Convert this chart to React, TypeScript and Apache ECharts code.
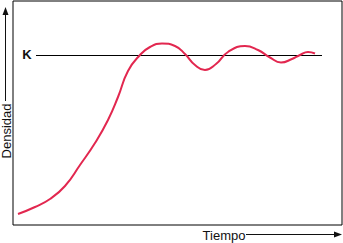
import React, { useEffect, useRef } from "react";
import * as echarts from "echarts";

// Logistic growth with oscillations around the carrying capacity K
const tiempo = [5, 22, 37, 52, 67, 82, 95, 105, 115, 127, 137, 149, 162, 172, 182, 192, 203, 215, 232, 245, 257, 268, 279, 287, 295, 302];
const densidad = [11, 18, 26, 39, 60, 82, 105, 128, 154, 170, 178, 181.5, 179, 171, 160, 155, 161, 173, 179, 175, 167.5, 162.5, 166, 170, 173, 171.5];
const capacidadK = 169.5;
const kInicio = 23;
const kFin = 309;

const FONT = "'Liberation Sans Narrow', 'Liberation Sans', Arial, sans-serif";

export default function App() {
  const ref = useRef<HTMLDivElement>(null);
  useEffect(() => {
    const chart = echarts.init(ref.current!, null, { renderer: "svg" });
    const curve = tiempo.map((t, i) => [t, densidad[i]]);
    chart.setOption({
      animation: false,
      grid: {
        left: 13,
        top: 1,
        width: 329,
        height: 224,
        show: true,
        borderColor: "#000",
        borderWidth: 1,
        backgroundColor: "transparent",
      },
      xAxis: {
        type: "value",
        min: 0,
        max: 329,
        axisLine: { show: false },
        axisTick: { show: false },
        axisLabel: { show: false },
        splitLine: { show: false },
      },
      yAxis: {
        type: "value",
        min: 0,
        max: 224,
        axisLine: { show: false },
        axisTick: { show: false },
        axisLabel: { show: false },
        splitLine: { show: false },
      },
      series: [
        {
          type: "line",
          data: [
            [kInicio, capacidadK],
            [kFin, capacidadK],
          ],
          symbol: "none",
          lineStyle: { color: "#000", width: 1 },
        },
        {
          type: "line",
          data: curve,
          smooth: 0.5,
          symbol: "none",
          lineStyle: { color: "#e2274f", width: 2 },
        },
      ],
      graphic: [
        {
          type: "text",
          x: 27,
          y: 54,
          style: {
            text: "K",
            font: `bold 13px ${FONT}`,
            fill: "#111",
            align: "center",
            verticalAlign: "middle",
          },
        },
        {
          type: "text",
          x: 6,
          y: 131,
          rotation: Math.PI / 2,
          style: {
            text: "Densidad",
            font: `13px ${FONT}`,
            fill: "#111",
            align: "center",
            verticalAlign: "middle",
          },
        },
        {
          type: "line",
          shape: { x1: 5.5, y1: 14, x2: 5.5, y2: 101 },
          style: { stroke: "#111", lineWidth: 1 },
        },
        {
          type: "polygon",
          shape: { points: [[5.5, 7], [2.5, 15], [8.5, 15]] },
          style: { fill: "#111" },
        },
        {
          type: "text",
          x: 224,
          y: 235,
          style: {
            text: "Tiempo",
            font: `13px ${FONT}`,
            fill: "#111",
            align: "center",
            verticalAlign: "middle",
          },
        },
        {
          type: "line",
          shape: { x1: 246, y1: 234.5, x2: 336, y2: 234.5 },
          style: { stroke: "#111", lineWidth: 1 },
        },
        {
          type: "polygon",
          shape: { points: [[342, 234.5], [334, 231.5], [334, 237.5]] },
          style: { fill: "#111" },
        },
      ],
    });
    return () => chart.dispose();
  }, []);
  return <div ref={ref} style={{ width: 343, height: 243, position: "absolute", left: 0, top: 0 }} />;
}
